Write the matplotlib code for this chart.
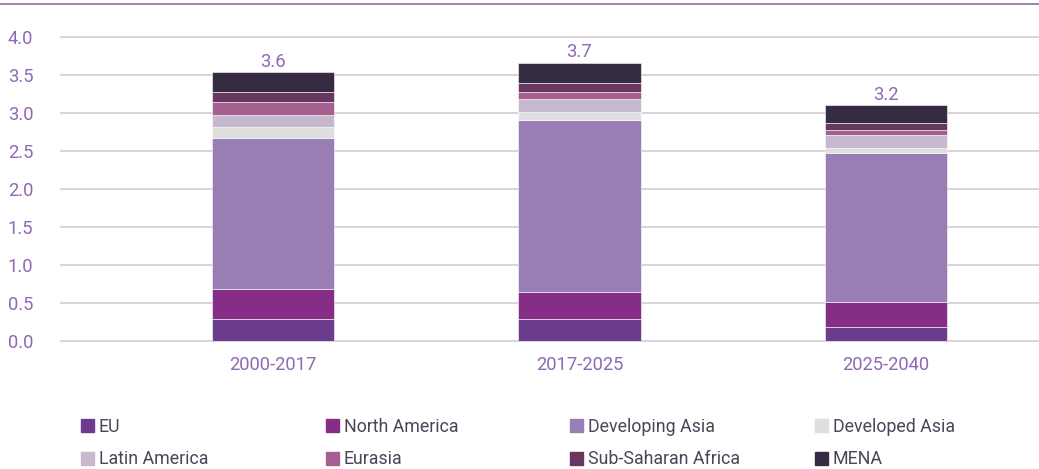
import numpy as np
import matplotlib
matplotlib.use("Agg")
from matplotlib import pyplot as plt
from matplotlib.lines import Line2D
from matplotlib.patches import Patch

plt.rcParams['font.family'] = ['Roboto', 'DejaVu Sans']

periods = ['2000-2017', '2017-2025', '2025-2040']
total_labels = ['3.6', '3.7', '3.2']

regions = ['EU', 'North America', 'Developing Asia', 'Developed Asia',
           'Latin America', 'Eurasia', 'Sub-Saharan Africa', 'MENA']
eu = [0.285, 0.285, 0.19]
north_america = [0.40, 0.365, 0.32]
developing_asia = [1.99, 2.26, 1.96]
developed_asia = [0.145, 0.11, 0.065]
latin_america = [0.16, 0.16, 0.175]
eurasia = [0.16, 0.10, 0.065]
ssa = [0.14, 0.11, 0.10]
mena = [0.255, 0.27, 0.225]

colors = ['#6c3d8c', '#862e87', '#997db5', '#dedede',
          '#c6b9cd', '#a5608f', '#673760', '#352c42']
text_col = '#9068b3'
grid_col = '#d5cfdb'

series = [eu, north_america, developing_asia, developed_asia,
          latin_america, eurasia, ssa, mena]

fig = plt.figure(figsize=(10.39, 4.69), dpi=100)
ax = fig.add_axes([0.0587, 0.2729, 0.9413, 0.648])

x = np.arange(len(periods))
bottom = np.zeros(len(periods))
for vals, col, name in zip(series, colors, regions):
    ax.bar(x, vals, 0.40, bottom=bottom, color=col, label=name,
           edgecolor='white', linewidth=0.4, zorder=3)
    bottom += np.array(vals)

for xi, top, lab in zip(x, bottom, total_labels):
    ax.text(xi, top + 0.025, lab, ha='center', va='bottom',
            fontsize=13.2, color=text_col)

ax.set_xlim(-0.692, 2.5)
ax.set_ylim(0, 4.0)
ax.set_yticks(np.arange(0, 4.01, 0.5))
ax.set_yticklabels([f'{v:.1f}' for v in np.arange(0, 4.01, 0.5)])
ax.set_xticks(x)
ax.set_xticklabels(periods)
ax.yaxis.grid(True, color=grid_col, linewidth=1.3)
ax.set_axisbelow(True)
for gl in ax.get_ygridlines():
    gl.set_clip_on(False)
for s in ax.spines.values():
    s.set_visible(False)
ax.tick_params(axis='y', length=0, pad=20, labelsize=13.2, labelcolor=text_col)
ax.tick_params(axis='x', length=0, pad=11, labelsize=13.2, labelcolor=text_col)

# top rule
fig.add_artist(Line2D([0, 1], [0.992, 0.992], color='#8e6bb0', linewidth=1.2,
                      transform=fig.transFigure))

# legend: four columns, row-major order
col_x = [81, 326, 570, 815]
for k in range(4):
    idx = [k, k + 4]
    handles = [Patch(color=colors[i]) for i in idx]
    labels = [regions[i] for i in idx]
    fig.legend(handles, labels, loc='upper left',
               bbox_to_anchor=(col_x[k] / 1039, 1 - 418 / 469),
               frameon=False, fontsize=12.8, labelcolor='#4a4656',
               handlelength=0.75, handleheight=0.75, handletextpad=0.25,
               labelspacing=0.8, borderpad=0, borderaxespad=0)

fig.savefig('out.png', dpi=100)
